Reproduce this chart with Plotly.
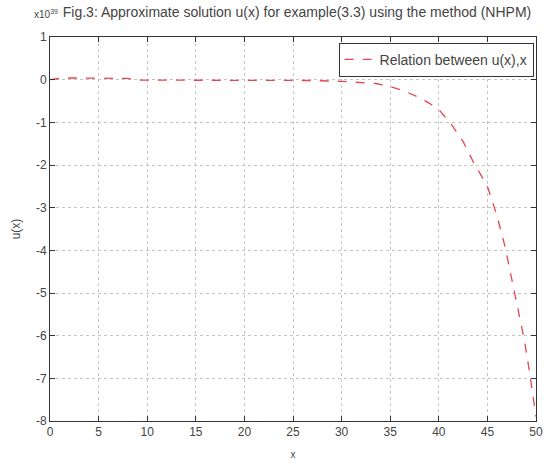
import plotly.graph_objects as go

x_vals = [0, 1, 2, 3, 4, 5, 6, 7, 8, 9, 10, 12, 15, 18, 20, 22, 25, 27, 30, 32, 33.5, 35, 36.5, 37.8, 39, 40,
          41.3, 42.5, 43.6, 44.5, 45, 46, 46.8, 47.8, 48.3, 48.8, 49.3, 49.8, 50]
u_vals = [0.0, 0.03, 0.04, 0.04, 0.04, 0.04, 0.04, 0.04, 0.03, -0.01, -0.01, -0.01, -0.01, -0.01, -0.01, -0.01,
          -0.01, -0.02, -0.04, -0.06, -0.09, -0.16, -0.27, -0.4, -0.55, -0.7,
          -1.05, -1.45, -1.95, -2.3, -2.5, -3.2, -3.9, -5.0, -5.55, -6.1, -6.8, -7.6, -7.9]

x_ticks = [0, 5, 10, 15, 20, 25, 30, 35, 40, 45, 50]
y_ticks = [1, 0, -1, -2, -3, -4, -5, -6, -7, -8]

title_text = "Fig.3: Approximate solution u(x) for example(3.3) using the method (NHPM)"
legend_text = "Relation between u(x),x"

font_family = "Liberation Sans, Arial, sans-serif"
txt_color = "#444444"

fig = go.Figure()
fig.add_trace(go.Scatter(
    x=x_vals, y=u_vals, mode="lines", name=legend_text,
    line=dict(color="rgb(230,70,80)", width=1.3, dash="dash"),
))

axis_common = dict(
    showgrid=True, gridcolor="#c4c4c4", griddash="dot", gridwidth=1,
    showline=True, linecolor="#333333", linewidth=1, mirror="ticks",
    ticks="inside", ticklen=5, tickcolor="#333333",
    zeroline=False,
    tickfont=dict(family=font_family, size=12, color=txt_color),
)

fig.update_layout(
    width=550, height=465,
    margin=dict(l=50, r=7, t=37, b=33),
    paper_bgcolor="white", plot_bgcolor="white",
    showlegend=True,
    legend=dict(
        x=0.995, y=0.985, xanchor="right", yanchor="top",
        bgcolor="white", bordercolor="#333333", borderwidth=1,
        font=dict(family=font_family, size=14, color=txt_color),
    ),
    title=dict(text=title_text, x=0.54, xanchor="center", y=0.985, yanchor="top",
               font=dict(family=font_family, size=14, color=txt_color)),
    xaxis=dict(range=[0, 50], tickvals=x_ticks, ticktext=[str(v) for v in x_ticks],
               title=dict(text="x", font=dict(family=font_family, size=10, color=txt_color), standoff=12),
               **axis_common),
    yaxis=dict(range=[-8, 1], tickvals=y_ticks, ticktext=[str(v).replace("\u2212", "-") for v in y_ticks],
               title=dict(text="u(x)", font=dict(family=font_family, size=12, color=txt_color), standoff=12),
               **axis_common),
)

fig.add_annotation(
    text="x10<sup>39</sup>", xref="paper", yref="paper", x=0.0, y=1.0, xanchor="right", yanchor="bottom",
    yshift=15, xshift=10, showarrow=False,
    font=dict(family=font_family, size=10, color=txt_color),
)

fig.write_html("out.html")
